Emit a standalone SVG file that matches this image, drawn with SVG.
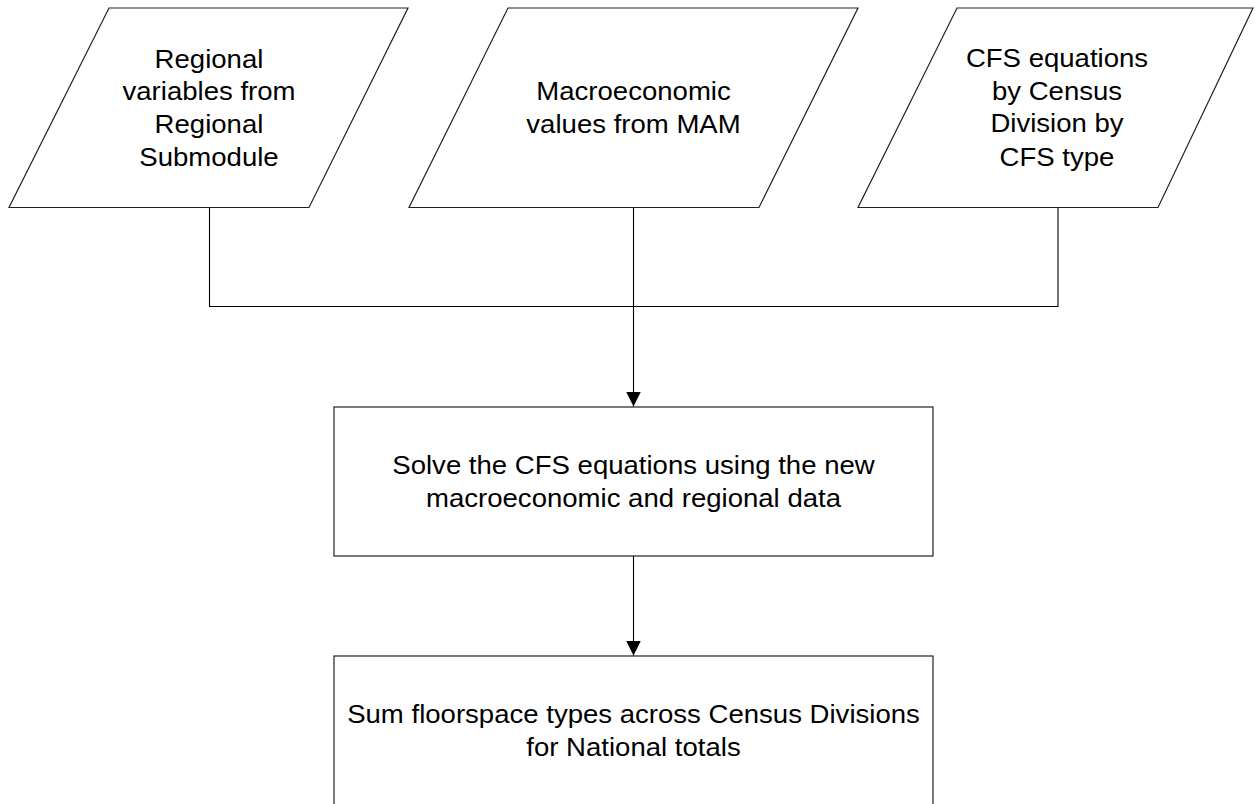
<svg xmlns="http://www.w3.org/2000/svg" width="1255" height="804" viewBox="0 0 1255 804">
  <style>
    .shape { fill: #ffffff; stroke: #222222; stroke-width: 1.2; }
    .conn { fill: none; stroke: #000000; stroke-width: 1.1; }
    .lbl { font-family: "Liberation Sans", Arial, sans-serif; font-size: 26px; fill: #000000; text-anchor: middle; }
  </style>
  <defs>
    <marker id="arrow" markerUnits="userSpaceOnUse" markerWidth="16" markerHeight="16" refX="15" refY="7.5" orient="auto">
      <path d="M0,0 L15,7.5 L0,15 Z" fill="#000000"/>
    </marker>
  </defs>
  <rect width="1255" height="804" fill="#ffffff"/>

  <!-- input data parallelograms -->
  <g id="regional-vars">
    <polygon class="shape" points="109,8 408,8 309,207.5 9,207.5"/>
    <g transform="translate(209 0) scale(1.06 1)">
      <text class="lbl" x="0" y="68">Regional</text>
      <text class="lbl" x="0" y="100.5">variables from</text>
      <text class="lbl" x="0" y="133">Regional</text>
      <text class="lbl" x="0" y="166.5">Submodule</text>
    </g>
  </g>

  <g id="macro-values">
    <polygon class="shape" points="508,8 858,8 759,207.5 409,207.5"/>
    <g transform="translate(633.5 0) scale(1.06 1)">
      <text class="lbl" x="0" y="100.5">Macroeconomic</text>
      <text class="lbl" x="0" y="133">values from MAM</text>
    </g>
  </g>

  <g id="cfs-equations">
    <polygon class="shape" points="957,8 1253,8 1158,207.5 858,207.5"/>
    <g transform="translate(1057 0) scale(1.06 1)">
      <text class="lbl" x="0" y="67">CFS equations</text>
      <text class="lbl" x="0" y="100">by Census</text>
      <text class="lbl" x="0" y="132.5">Division by</text>
      <text class="lbl" x="0" y="166">CFS type</text>
    </g>
  </g>

  <!-- process boxes -->
  <g id="solve-cfs">
    <rect class="shape" x="334" y="407" width="599" height="149"/>
    <g transform="translate(633.5 0) scale(1.06 1)">
      <text class="lbl" x="0" y="474">Solve the CFS equations using the new</text>
      <text class="lbl" x="0" y="507">macroeconomic and regional data</text>
    </g>
  </g>

  <g id="sum-floorspace">
    <rect class="shape" x="334" y="656" width="599" height="149"/>
    <g transform="translate(633.5 0) scale(1.06 1)">
      <text class="lbl" x="0" y="723">Sum floorspace types across Census Divisions</text>
      <text class="lbl" x="0" y="756">for National totals</text>
    </g>
  </g>

  <!-- connectors -->
  <g id="connectors">
    <path class="conn" d="M209.5,207.5 V306.5 H633.5"/>
    <path class="conn" d="M1058,207.5 V306.5 H633.5"/>
    <path class="conn" d="M633.5,207.5 V406.5" marker-end="url(#arrow)"/>
    <path class="conn" d="M633.5,556 V655.5" marker-end="url(#arrow)"/>
  </g>
</svg>
